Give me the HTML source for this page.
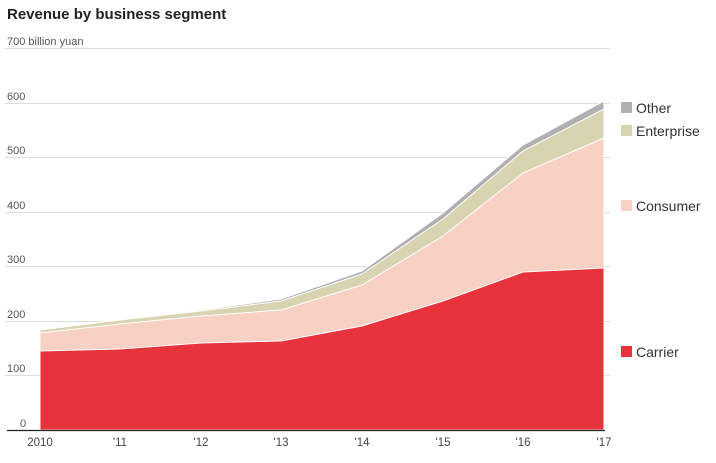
<!DOCTYPE html>
<html><head><style>
body{margin:0;background:#fff;width:716px;height:458px;overflow:hidden}
svg text{font-family:"Liberation Sans",sans-serif}
</style></head><body>
<svg width="716" height="458" xmlns="http://www.w3.org/2000/svg">
<text x="7" y="19" font-size="15" font-weight="bold" fill="#222">Revenue by business segment</text>
<g stroke="#ddd" stroke-width="1">
<line x1="5" x2="610" y1="48.5" y2="48.5"/>
<line x1="5" x2="610" y1="103.5" y2="103.5"/>
<line x1="5" x2="610" y1="157.5" y2="157.5"/>
<line x1="5" x2="610" y1="212.5" y2="212.5"/>
<line x1="5" x2="610" y1="266.5" y2="266.5"/>
<line x1="5" x2="610" y1="321.5" y2="321.5"/>
<line x1="5" x2="610" y1="375.5" y2="375.5"/>
</g>
<g font-size="11" fill="#555">
<text x="7" y="45">700 billion yuan</text>
<text x="7" y="100">600</text>
<text x="7" y="154">500</text>
<text x="7" y="209">400</text>
<text x="7" y="263">300</text>
<text x="7" y="318">200</text>
<text x="7" y="372">100</text>
<text x="20" y="427">0</text>
</g>
<g stroke="#fff" stroke-width="1" stroke-linejoin="round">
<polygon fill="#b0b0b0" points="40,430 40,329.5 120,319.5 201,310 281,299 362,271 443,213 523,145 604,101 604,430"/>
<polygon fill="#d8d3b0" points="40,430 40,330 120,320 201,311 281,301 362,274 443,219 523,151 604,109 604,430"/>
<polygon fill="#f9d0c4" points="40,430 40,333 120,324 201,316 281,310 362,285 443,236 523,173 604,138 604,430"/>
<polygon fill="#e8323c" points="40,430 40,351 120,349 201,343 281,341 362,326 443,301 523,272 604,268 604,430"/>
</g>
<line x1="7" x2="605" y1="430.5" y2="430.5" stroke="#222" stroke-width="1.2"/>
<g font-size="11.5" fill="#444" text-anchor="middle">
<text x="40" y="446">2010</text>
<text x="120" y="446">'11</text>
<text x="201" y="446">'12</text>
<text x="281" y="446">'13</text>
<text x="362" y="446">'14</text>
<text x="443" y="446">'15</text>
<text x="523" y="446">'16</text>
<text x="604" y="446">'17</text>
</g>
<g font-size="14" fill="#333">
<rect x="621" y="102" width="11" height="11" fill="#b0b0b0"/><text x="636" y="113">Other</text>
<rect x="621" y="125" width="11" height="11" fill="#d8d3b0"/><text x="636" y="136">Enterprise</text>
<rect x="621" y="200" width="11" height="11" fill="#f9d0c4"/><text x="636" y="211">Consumer</text>
<rect x="621" y="346" width="11" height="11" fill="#e8323c"/><text x="636" y="357">Carrier</text>
</g>
</svg>
</body></html>
